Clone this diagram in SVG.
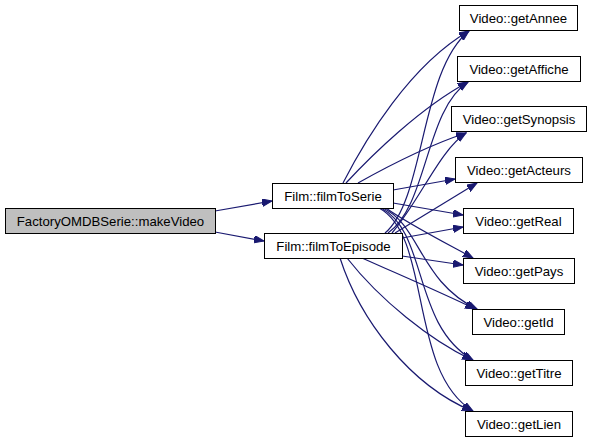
<svg xmlns="http://www.w3.org/2000/svg" width="592" height="443" viewBox="0 0 592 443">
<style>
.n rect{fill:#ffffff;stroke:#000000;stroke-width:1}
.n text{font-family:"Liberation Sans",Arial,Helvetica,sans-serif;font-size:13.2px;fill:#000000;text-anchor:middle}
#edges path{fill:none;stroke:#191970;stroke-width:1.2}
</style>
<defs>
<marker id="ah" markerUnits="userSpaceOnUse" markerWidth="11" markerHeight="8" refX="10" refY="3.75" orient="auto">
<path d="M0,0 L10,3.75 L0,7.5 z" fill="#191970" stroke="#191970" stroke-width="1"/>
</marker>
</defs>
<rect width="592" height="443" fill="#ffffff"/>
<g id="edges" marker-end="url(#ah)">
<path d="M215,211 L272,201"/>
<path d="M215,232 L264,241"/>
<path d="M343,183 C365,140 410,65 469,31"/>
<path d="M346,183 C372,155 420,108 468,82"/>
<path d="M358,183 C390,165 430,145 466,133"/>
<path d="M393,190 L455,179"/>
<path d="M393,203 L463,215"/>
<path d="M386,208 C405,222 440,240 473,258"/>
<path d="M383,208 C420,225 420,282 477,309"/>
<path d="M381,208 C428,232 412,325 473,360"/>
<path d="M379,208 C432,236 408,372 473,411"/>
<path d="M385,233 C425,200 420,70 469,31"/>
<path d="M388,233 C428,205 425,110 468,82"/>
<path d="M392,233 C420,200 440,150 466,133"/>
<path d="M395,233 L477,183"/>
<path d="M402,238 L463,227"/>
<path d="M402,256 L463,265"/>
<path d="M362,258 C400,275 440,292 475,309"/>
<path d="M347,258 C380,300 430,340 472,360"/>
<path d="M340,258 C360,320 410,385 472,411"/>
</g>
<g id="makeVideo" class="n"><rect x="5.5" y="208.5" width="210" height="25" style="fill:#bfbfbf"/><text x="110.5" y="225.5">FactoryOMDBSerie::makeVideo</text></g>
<g id="filmToSerie" class="n"><rect x="272.5" y="183.5" width="121" height="25"/><text x="333" y="200.5">Film::filmToSerie</text></g>
<g id="filmToEpisode" class="n"><rect x="264.5" y="233.5" width="138" height="25"/><text x="333.5" y="250.5">Film::filmToEpisode</text></g>
<g id="getAnnee" class="n"><rect x="459.5" y="5.5" width="118" height="25"/><text x="518.5" y="22.5">Video::getAnnee</text></g>
<g id="getAffiche" class="n"><rect x="457.5" y="56.5" width="123" height="25"/><text x="519" y="73.5">Video::getAffiche</text></g>
<g id="getSynopsis" class="n"><rect x="451.5" y="106.5" width="135" height="25"/><text x="519" y="123.5">Video::getSynopsis</text></g>
<g id="getActeurs" class="n"><rect x="455.5" y="157.5" width="127" height="25"/><text x="519" y="174.5">Video::getActeurs</text></g>
<g id="getReal" class="n"><rect x="463.5" y="208.5" width="110" height="25"/><text x="518.5" y="225.5">Video::getReal</text></g>
<g id="getPays" class="n"><rect x="463.5" y="258.5" width="111" height="25"/><text x="519" y="275.5">Video::getPays</text></g>
<g id="getId" class="n"><rect x="472.5" y="309.5" width="92" height="25"/><text x="518.5" y="326.5">Video::getId</text></g>
<g id="getTitre" class="n"><rect x="465.5" y="360.5" width="107" height="25"/><text x="519" y="377.5">Video::getTitre</text></g>
<g id="getLien" class="n"><rect x="465.5" y="411.5" width="107" height="25"/><text x="519" y="428.5">Video::getLien</text></g>
</svg>
